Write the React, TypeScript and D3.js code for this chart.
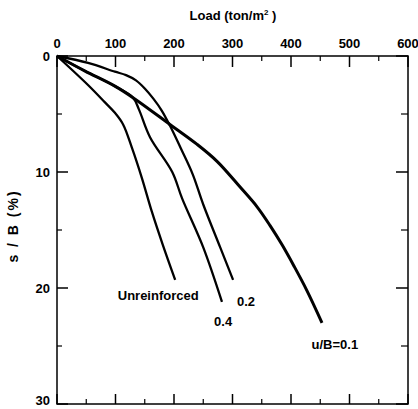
import React from 'react';
import * as d3 from 'd3';

// load (ton/m2) vs settlement ratio s/B (%)
const unreinforced = [
  [0, 0], [53, 2.5], [82, 4.0], [99, 4.9], [113, 5.9], [128, 7.9],
  [145, 10.5], [162, 13.4], [181, 16.3], [202, 19.3],
];
const ub02 = [
  [0, 0], [53, 0.6], [99, 1.35], [118, 1.65], [135, 2.1], [150, 2.8],
  [165, 3.7], [179, 4.7], [193, 6.0], [212, 8.0], [232, 10.2],
  [250, 12.8], [279, 16.5], [301, 19.3],
];
const ub04 = [
  [0, 0], [48, 1.3], [99, 2.6], [130, 3.6], [140, 4.6], [159, 7.0],
  [197, 10.0], [214, 12.3], [250, 16.5], [282, 21.2],
];
const ub01 = [
  [0, 0], [48, 1.3], [99, 2.6], [133, 3.7], [193, 5.9], [239, 7.6],
  [274, 9.1], [313, 11.3], [342, 13.0], [364, 14.6], [385, 16.3],
  [405, 18.1], [427, 20.2], [453, 23.0],
];

const xTicks = [0, 100, 200, 300, 400, 500, 600];
const xMinor = [50, 150, 250, 350, 450, 550];
const yTicks = [0, 10, 20, 30];
const yMinor = [5, 15, 25];

const curveLabels = [
  { text: 'Unreinforced', at: [173, 20.6] },
  { text: '0.2', at: [323, 21.2] },
  { text: '0.4', at: [284, 22.9] },
  { text: 'u/B=0.1', at: [475, 24.9] },
];

const App = () => {
  const x = d3.scaleLinear().domain([0, 600]).range([57, 408]);
  const y = d3.scaleLinear().domain([0, 30]).range([56, 404]);
  const line = d3
    .line<number[]>()
    .x((d) => x(d[0]))
    .y((d) => y(d[1]))
    .curve(d3.curveCatmullRom.alpha(0.5));

  const font = { fontFamily: '"Liberation Sans", Arial, sans-serif', fontWeight: 'bold', fontSize: 13 };
  const [x0, x1] = x.range();
  const [y0, y1] = y.range();

  return (
    <svg
      width="418"
      height="409"
      style={{ position: 'absolute', left: 0, top: 0, background: '#fff' }}
    >
      <text x={233} y={20} textAnchor="middle" {...font}>
        Load (ton/m<tspan fontSize="8" dy="-5">2</tspan>
        <tspan dy="5"> )</tspan>
      </text>
      <text
        transform="translate(18,226) rotate(-90)"
        textAnchor="middle"
        {...font}
        fontSize={14}
        letterSpacing="2"
      >
        s / B (%)
      </text>

      <rect x={x0} y={y0} width={x1 - x0} height={y1 - y0} fill="none" stroke="#000" strokeWidth="1.5" />

      {xTicks.map((t) => (
        <g key={'xt' + t}>
          <line x1={x(t)} x2={x(t)} y1={y0} y2={y0 + 11} stroke="#000" strokeWidth="1.5" />
          <line x1={x(t)} x2={x(t)} y1={y1} y2={y1 - 10} stroke="#000" strokeWidth="1.5" />
          <text x={x(t)} y={y0 - 8} textAnchor="middle" {...font}>
            {t}
          </text>
        </g>
      ))}
      {xMinor.map((t) => (
        <g key={'xm' + t}>
          <line x1={x(t)} x2={x(t)} y1={y0} y2={y0 + 5} stroke="#000" strokeWidth="1.2" />
          <line x1={x(t)} x2={x(t)} y1={y1} y2={y1 - 5} stroke="#000" strokeWidth="1.2" />
        </g>
      ))}
      {yTicks.map((t) => (
        <g key={'yt' + t}>
          <line x1={x0} x2={x0 + 11} y1={y(t)} y2={y(t)} stroke="#000" strokeWidth="1.5" />
          <line x1={x1} x2={x1 - 12} y1={y(t)} y2={y(t)} stroke="#000" strokeWidth="1.5" />
          <text x={50} y={Math.min(y(t), 400)} dy="0.35em" textAnchor="end" {...font}>
            {t}
          </text>
        </g>
      ))}
      {yMinor.map((t) => (
        <g key={'ym' + t}>
          <line x1={x0} x2={x0 + 5} y1={y(t)} y2={y(t)} stroke="#000" strokeWidth="1.2" />
          <line x1={x1} x2={x1 - 7} y1={y(t)} y2={y(t)} stroke="#000" strokeWidth="1.2" />
        </g>
      ))}

      <path d={line(unreinforced) || ''} fill="none" stroke="#000" strokeWidth="2.3" />
      <path d={line(ub02) || ''} fill="none" stroke="#000" strokeWidth="2.3" />
      <path d={line(ub04) || ''} fill="none" stroke="#000" strokeWidth="2.3" />
      <path d={line(ub01) || ''} fill="none" stroke="#000" strokeWidth="3" />

      {curveLabels.map((l) => (
        <text key={l.text} x={x(l.at[0])} y={y(l.at[1])} dy="0.35em" textAnchor="middle" {...font}>
          {l.text}
        </text>
      ))}
    </svg>
  );
};

export default App;
